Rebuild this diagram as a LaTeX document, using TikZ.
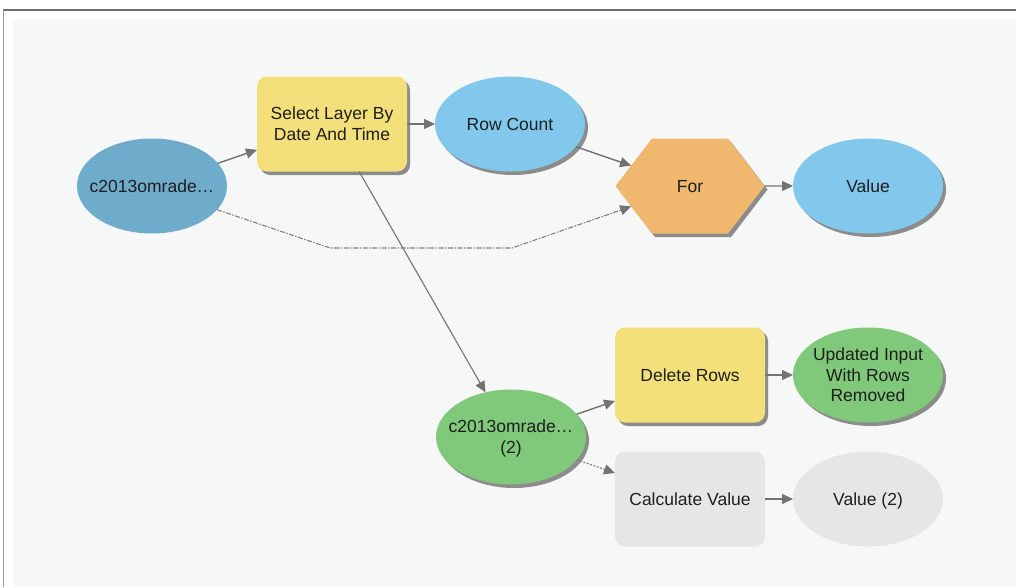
\documentclass[tikz,border=0pt]{standalone}
\usepackage{fontspec}
\setmainfont{Liberation Sans}
\usetikzlibrary{shapes.geometric,shapes.symbols,arrows.meta,shadows}
\definecolor{panel}{RGB}{246,247,247}
\definecolor{framegray}{RGB}{110,110,110}
\definecolor{inblue}{RGB}{111,172,203}
\definecolor{ltblue}{RGB}{129,200,236}
\definecolor{tyellow}{RGB}{243,224,122}
\definecolor{torange}{RGB}{240,183,110}
\definecolor{tgreen}{RGB}{128,201,122}
\definecolor{tgray}{RGB}{230,230,230}
\definecolor{linegray}{RGB}{115,115,115}
\definecolor{txt}{RGB}{30,30,30}
\newcommand{\ctext}[1]{\raisebox{-2pt}[\height][\depth]{\makebox[0pt][c]{\begin{tabular}{@{}c@{}}#1\end{tabular}}}}
\tikzset{
  base/.style={font=\fontsize{17.5}{20.5}\selectfont, text=txt, inner sep=0pt, outer sep=0pt, align=center},
  shad/.style={drop shadow={shadow xshift=3pt, shadow yshift=-3.5pt, fill=black!45, opacity=1}},
  ell/.style={base, ellipse, minimum width=150pt, minimum height=95pt},
  toolbox/.style={base, rectangle, rounded corners=10pt, minimum width=150pt, minimum height=95pt},
  arr/.style={draw=linegray, line width=1.4pt, -{Triangle[length=11pt,width=10pt]}},
  dasharr/.style={draw=black!50, line width=1.1pt, dash pattern=on 5pt off 1.5pt on 1.5pt off 1.5pt, -{Triangle[length=11pt,width=10pt,color=linegray]}},
  dotarr/.style={draw=black!50, line width=1.1pt, dash pattern=on 2pt off 1.5pt, -{Triangle[length=11pt,width=10pt,color=linegray]}}
}
\begin{document}
\begin{tikzpicture}[x=1pt,y=-1pt]
\useasboundingbox (0,0) rectangle (1016,587);
\fill[white] (0,0) rectangle (1016,587);
\fill[panel] (13,19) rectangle (1016,587);
\draw[framegray, line width=2pt] (3,10) -- (1016,10);
\draw[framegray!70, line width=1pt] (3.5,10) -- (3.5,587);

% nodes
\node[ell, fill=inblue] (c1) at (152,186) {\ctext{c2013omrade…}};
\node[toolbox, fill=tyellow, shad] (sel) at (332,124) {\ctext{Select Layer By\\Date And Time}};
\node[ell, fill=ltblue, shad] (rc) at (510,124) {\ctext{Row Count}};
\node[base, signal, signal to=west and east, signal pointer angle=105, minimum width=149pt, minimum height=95pt, fill=torange, shad] (for) at (690,186) {\ctext{For}};
\node[ell, fill=ltblue, shad] (val) at (868,186) {\ctext{Value}};
\node[ell, fill=tgreen, shad] (c2) at (511,437) {\ctext{c2013omrade…\\(2)}};
\node[toolbox, fill=tyellow, shad] (del) at (690,375) {\ctext{Delete Rows}};
\node[ell, fill=tgreen, shad] (upd) at (868,375) {\ctext{Updated Input\\With Rows\\Removed}};
\node[toolbox, fill=tgray] (calc) at (690,499) {\ctext{Calculate Value}};
\node[ell, fill=tgray] (val2) at (868,499) {\ctext{Value (2)}};

\coordinate (b1) at (330,248);
\coordinate (b2) at (512,248);

% connectors
\draw[arr] (c1) -- (sel);
\draw[arr] (sel) -- (rc);
\draw[arr] (rc) -- (for);
\draw[arr] (for) -- (val);
\draw[dasharr] (c1.-20) -- (b1) -- (b2) -- (for);
\draw[arr, line width=1.1pt] (sel) -- (c2);
\draw[arr] (c2) -- (del);
\draw[dotarr] (c2) -- (calc);
\draw[arr] (del) -- (upd);
\draw[arr] (calc) -- (val2);
\end{tikzpicture}
\end{document}
